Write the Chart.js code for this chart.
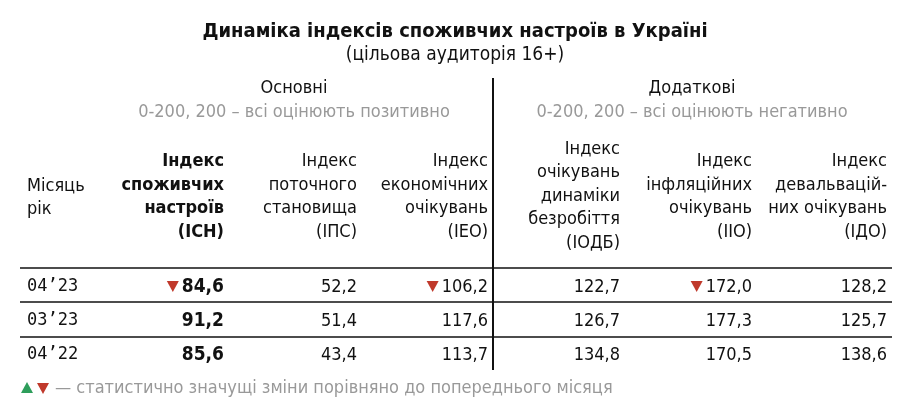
<!DOCTYPE html>
<html><head><meta charset="utf-8">
<script src="https://cdn.jsdelivr.net/npm/chart.js@4"></script>
<style>html,body{margin:0;background:#fff}#wrap{width:910px;height:410px}</style>
</head><body><div id="wrap"><canvas id="c"></canvas></div>
<script>
// data
const months = ["04’23", "03’23", "04’22"];
const ich = [84.6, 91.2, 85.6];
const ips = [52.2, 51.4, 43.4];
const ieo = [106.2, 117.6, 113.7];
const iodb = [122.7, 126.7, 134.8];
const iio = [172.0, 177.3, 170.5];
const ido = [128.2, 125.7, 138.6];
// down-marker flags
const ichDown = [true, false, false];
const ieoDown = [true, false, false];
const iioDown = [true, false, false];

const headers = [
  ["Індекс", "споживчих", "настроїв", "(ІСН)"],
  ["Індекс", "поточного", "становища", "(ІПС)"],
  ["Індекс", "економічних", "очікувань", "(ІЕО)"],
  ["Індекс", "очікувань", "динаміки", "безробіття", "(ІОДБ)"],
  ["Індекс", "інфляційних", "очікувань", "(ІІО)"],
  ["Індекс", "девальвацій-", "них очікувань", "(ІДО)"]
];
const series = [ich, ips, ieo, iodb, iio, ido];
const downs = [ichDown, null, ieoDown, null, iioDown, null];

const colRight = [224, 357, 488, 620, 752, 887];
const rowY = [287, 321, 355];
const FONT = "Tahoma, 'DejaVu Sans Condensed', 'DejaVu Sans', sans-serif";
const fmt = v => v.toFixed(1).replace(".", ",");

function tri(ctx, x, y, up, color) {
  ctx.fillStyle = color;
  ctx.beginPath();
  if (up) { ctx.moveTo(x, y - 6); ctx.lineTo(x + 6, y + 5); ctx.lineTo(x - 6, y + 5); }
  else { ctx.moveTo(x - 6, y - 5); ctx.lineTo(x + 6, y - 5); ctx.lineTo(x, y + 6); }
  ctx.fill();
}

const tablePlugin = {
  id: "table",
  afterDraw(chart) {
    const ctx = chart.ctx, sx = chart.scales.x, sy = chart.scales.y;
    const X = v => sx.getPixelForValue(v), Y = v => sy.getPixelForValue(v);
    ctx.save();
    ctx.textBaseline = "middle";
    ctx.fillStyle = "#111";
    ctx.textAlign = "center";
    ctx.font = "bold 20px " + FONT;
    ctx.fillText("Динаміка індексів споживчих настроїв в Україні", X(455), Y(32));
    ctx.font = "19px " + FONT;
    ctx.fillText("(цільова аудиторія 16+)", X(455), Y(55));
    ctx.font = "18px " + FONT;
    ctx.fillText("Основні", X(294), Y(88));
    ctx.fillText("Додаткові", X(692), Y(88));
    ctx.fillStyle = "#999";
    ctx.fillText("0-200, 200 – всі оцінюють позитивно", X(294), Y(112));
    ctx.fillText("0-200, 200 – всі оцінюють негативно", X(692), Y(112));
    // header
    ctx.fillStyle = "#111";
    ctx.textAlign = "left";
    ctx.fillText("Місяць", X(27), Y(186));
    ctx.fillText("рік", X(27), Y(209));
    ctx.textAlign = "right";
    headers.forEach((h, i) => {
      ctx.font = (i === 0 ? "bold " : "") + "18px " + FONT;
      const last = h.length === 5 ? 243 : 232;
      h.forEach((t, j) => ctx.fillText(t, X(colRight[i]), Y(last - (h.length - 1 - j) * 23.5)));
    });
    // rows
    months.forEach((m, r) => {
      ctx.textAlign = "left";
      ctx.font = "17px 'DejaVu Sans Mono', monospace";
      ctx.fillStyle = "#111";
      ctx.fillText(m, X(27), Y(rowY[r]));
      ctx.textAlign = "right";
      series.forEach((s, i) => {
        ctx.font = (i === 0 ? "bold 19px " : "18px ") + FONT;
        ctx.fillStyle = "#111";
        const txt = fmt(s[r]);
        ctx.fillText(txt, X(colRight[i]), Y(rowY[r]));
        if (downs[i] && downs[i][r]) {
          const w = ctx.measureText(txt).width;
          tri(ctx, X(colRight[i]) - w - 9, Y(rowY[r]) - 1, false, "#c0392b");
        }
      });
    });
    // lines
    ctx.strokeStyle = "#111";
    ctx.lineWidth = 1.5;
    [268, 302, 337].forEach(y => {
      ctx.beginPath(); ctx.moveTo(X(20), Y(y)); ctx.lineTo(X(892), Y(y)); ctx.stroke();
    });
    ctx.lineWidth = 2;
    ctx.beginPath(); ctx.moveTo(X(493), Y(78)); ctx.lineTo(X(493), Y(370)); ctx.stroke();
    // footer
    tri(ctx, X(27), Y(388), true, "#2e9e5b");
    tri(ctx, X(43), Y(388), false, "#c0392b");
    ctx.textAlign = "left";
    ctx.fillStyle = "#999";
    ctx.font = "18px " + FONT;
    ctx.fillText("— статистично значущі зміни порівняно до попереднього місяця", X(55), Y(388));
    ctx.restore();
  }
};

new Chart(document.getElementById("c"), {
  type: "scatter",
  data: { datasets: [{ data: [] }] },
  options: {
    responsive: true, maintainAspectRatio: false, animation: false,
    layout: { padding: 0 },
    plugins: { legend: { display: false }, tooltip: { enabled: false } },
    scales: {
      x: { type: "linear", min: 0, max: 910, display: false },
      y: { type: "linear", min: 0, max: 410, reverse: true, display: false }
    }
  },
  plugins: [tablePlugin]
});
</script></body></html>
